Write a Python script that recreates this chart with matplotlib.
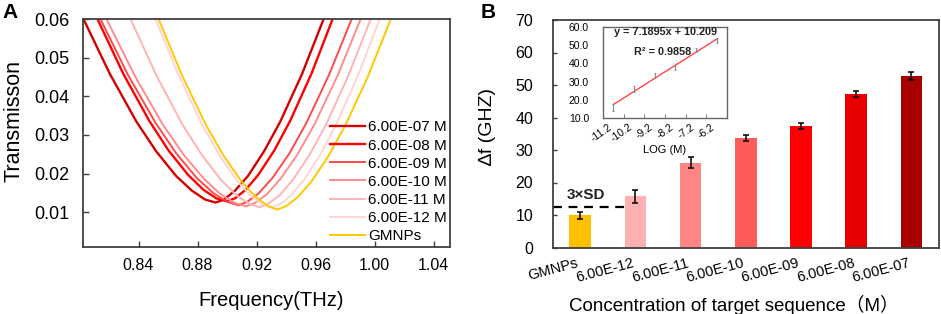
import matplotlib.pyplot as plt

plt.rcParams['font.family'] = ['Liberation Sans', 'DejaVu Sans']

# ---- panel A: transmission spectra ----
conc_labels = ['6.00E-07 M', '6.00E-08 M', '6.00E-09 M', '6.00E-10 M',
               '6.00E-11 M', '6.00E-12 M', 'GMNPs']

freq_07 = [0.8027, 0.8206, 0.8385, 0.8519, 0.8654, 0.8761, 0.8850, 0.8922,
           0.8981, 0.9054, 0.9142, 0.9251, 0.9361, 0.9508, 0.9654]
trans_07 = [0.0600, 0.0458, 0.0335, 0.0258, 0.0194, 0.0156, 0.0133, 0.0125,
            0.0133, 0.0156, 0.0194, 0.0258, 0.0335, 0.0458, 0.0600]

freq_08 = [0.8122, 0.8297, 0.8472, 0.8603, 0.8735, 0.8840, 0.8927, 0.8997,
           0.9054, 0.9126, 0.9212, 0.9320, 0.9428, 0.9571, 0.9715]
trans_08 = [0.0600, 0.0458, 0.0337, 0.0260, 0.0197, 0.0158, 0.0136, 0.0128,
            0.0136, 0.0158, 0.0197, 0.0260, 0.0337, 0.0458, 0.0600]

freq_09 = [0.8142, 0.8329, 0.8516, 0.8656, 0.8796, 0.8908, 0.9001, 0.9076,
           0.9137, 0.9214, 0.9306, 0.9422, 0.9537, 0.9690, 0.9844]
trans_09 = [0.0600, 0.0455, 0.0331, 0.0252, 0.0188, 0.0149, 0.0127, 0.0118,
            0.0127, 0.0149, 0.0188, 0.0252, 0.0331, 0.0455, 0.0600]

freq_10 = [0.8183, 0.8372, 0.8561, 0.8703, 0.8844, 0.8958, 0.9052, 0.9128,
           0.9190, 0.9268, 0.9361, 0.9478, 0.9594, 0.9750, 0.9905]
trans_10 = [0.0600, 0.0455, 0.0329, 0.0250, 0.0186, 0.0146, 0.0124, 0.0115,
            0.0124, 0.0146, 0.0186, 0.0250, 0.0329, 0.0455, 0.0600]

freq_11 = [0.8346, 0.8521, 0.8696, 0.8827, 0.8958, 0.9063, 0.9150, 0.9220,
           0.9280, 0.9356, 0.9446, 0.9559, 0.9672, 0.9822, 0.9973]
trans_11 = [0.0600, 0.0454, 0.0328, 0.0249, 0.0184, 0.0144, 0.0122, 0.0113,
            0.0122, 0.0144, 0.0184, 0.0249, 0.0328, 0.0454, 0.0600]

freq_12 = [0.8515, 0.8672, 0.8829, 0.8947, 0.9064, 0.9159, 0.9237, 0.9300,
           0.9359, 0.9432, 0.9520, 0.9630, 0.9740, 0.9887, 1.0034]
trans_12 = [0.0600, 0.0454, 0.0328, 0.0248, 0.0183, 0.0143, 0.0121, 0.0112,
            0.0121, 0.0143, 0.0183, 0.0248, 0.0328, 0.0454, 0.0600]

freq_gm = [0.8536, 0.8697, 0.8858, 0.8978, 0.9099, 0.9195, 0.9276, 0.9340,
           0.9402, 0.9478, 0.9571, 0.9686, 0.9801, 0.9955, 1.0109]
trans_gm = [0.0600, 0.0452, 0.0325, 0.0245, 0.0179, 0.0139, 0.0116, 0.0107,
            0.0116, 0.0139, 0.0179, 0.0245, 0.0325, 0.0452, 0.0600]

a_xticks = [0.84, 0.88, 0.92, 0.96, 1.00, 1.04]
a_yticks = [0.01, 0.02, 0.03, 0.04, 0.05, 0.06]

# ---- panel B: frequency shift bars ----
bar_labels = ['GMNPs', '6.00E-12', '6.00E-11', '6.00E-10', '6.00E-09',
              '6.00E-08', '6.00E-07']
shift = [9.9, 15.7, 26.1, 33.7, 37.4, 47.3, 52.7]
shift_err = [1.0, 1.9, 1.75, 0.9, 1.0, 1.0, 1.3]
sd_level = 12.5

# inset: linear fit vs log concentration
log_labels = ['-11.2', '-10.2', '-9.2', '-8.2', '-7.2', '-6.2']
fit_y = [17.40, 53.35]   # y = 7.1895x + 10.209 at x = 1 and x = 6

line_colors = ['#D40000', '#FF0000', '#FF4A4A', '#FF8C8C', '#FFB4B4',
               '#FFD4D4', '#FFC800']
line_widths = [1.7, 1.7, 1.4, 1.4, 1.4, 1.4, 1.4]
bar_colors = ['#FFC000', '#FFB0B0', '#FF8585', '#FF5B5B', '#FF0000',
              '#E60000', '#A80000']
spine_col = '#404040'

fig = plt.figure(figsize=(9.41, 3.14), dpi=100)

# ---------------- panel A ----------------
ax = fig.add_axes([83/941, 1-247/314, 367/941, 228/314])
curves = [(freq_07, trans_07), (freq_08, trans_08), (freq_09, trans_09),
          (freq_10, trans_10), (freq_11, trans_11), (freq_12, trans_12),
          (freq_gm, trans_gm)]
for (f, t), lab, c, lw in zip(curves, conc_labels, line_colors, line_widths):
    ax.plot(f, t, color=c, lw=lw, label=lab)

ax.set_xlim(0.8024, 1.051)
ax.set_ylim(0.001, 0.06)
ax.set_xticks(a_xticks)
ax.set_xticklabels(['%.2f' % v for v in a_xticks], fontsize=11.5)
ax.set_yticks(a_yticks)
ax.set_yticklabels(['%.2f' % v for v in a_yticks], fontsize=13)
ax.tick_params(axis='x', direction='in', length=4, width=1, color=spine_col, pad=8)
ax.tick_params(axis='y', direction='in', length=4, width=1, color=spine_col, pad=10)
for s in ax.spines.values():
    s.set_color(spine_col)
    s.set_linewidth(1.3)
ax.set_xlabel('Frequency(THz)', fontsize=14.5)
ax.xaxis.set_label_coords(0.512, -0.195)
ax.set_ylabel('Transmisson', fontsize=15.5)
ax.yaxis.set_label_coords(-0.16, 0.553)
ax.legend(loc='lower right', bbox_to_anchor=(0.995, 0.01), frameon=False,
          fontsize=11, handlelength=2.3, handletextpad=0.2, labelspacing=0.27,
          borderaxespad=0.0, borderpad=0.1)

# ---------------- panel B ----------------
bx = fig.add_axes([552.5/941, 1-247.5/314, 386.5/941, 227.5/314])
pos = list(range(len(bar_labels)))
bx.bar(pos, shift, width=0.39, color=bar_colors, yerr=shift_err, capsize=2,
       error_kw=dict(elinewidth=1.1, capthick=1.1, ecolor='black'))
bx.plot([-0.5, 0.83], [sd_level, sd_level], color='black', lw=1.6,
        dashes=(4, 3))
bx.text(-0.24, 16.3, '3×SD', fontsize=11, fontweight='bold', color='#222222',
        ha='left', va='center')
bx.set_xlim(-0.5, 6.5)
bx.set_ylim(0, 70)
bx.set_yticks(range(0, 71, 10))
bx.set_yticklabels([str(v) for v in range(0, 71, 10)], fontsize=11.5)
bx.set_xticks(pos)
bx.set_xticklabels(bar_labels, rotation=15, ha='right', fontsize=10.5)
bx.tick_params(axis='x', length=0, pad=6)
bx.tick_params(axis='y', direction='in', length=3, width=1, color=spine_col, pad=14)
for s in bx.spines.values():
    s.set_color(spine_col)
    s.set_linewidth(1.3)
bx.set_ylabel('∆f (GHZ)', fontsize=14)
bx.yaxis.set_label_coords(-0.145, 0.53)
bx.set_xlabel('Concentration of target sequence（M）', fontsize=13.5,
              family=['Liberation Sans', 'Noto Sans CJK SC'])
bx.xaxis.set_label_coords(0.47, -0.21)

# ---------------- inset ----------------
ix = fig.add_axes([603/941, 1-118/314, 124/941, 91/314])
ipos = list(range(1, len(log_labels) + 1))
ix.plot([1, 6], fit_y, color='#FF4545', lw=1.0)
ix.errorbar(ipos, shift[1:], yerr=shift_err[1:], fmt='none', ecolor='#888888',
            elinewidth=0.8, capsize=1, capthick=0.6)
ix.set_xlim(0.5, 6.5)
ix.set_ylim(10, 60)
ix.set_yticks(range(10, 61, 10))
ix.set_yticklabels(['%.1f' % v for v in range(10, 61, 10)], fontsize=7.5)
ix.set_xticks(ipos)
ix.set_xticklabels(log_labels, rotation=35, ha='right', fontsize=7.5)
ix.set_xticks([1.5, 2.5, 3.5, 4.5, 5.5], minor=True)
ix.tick_params(axis='x', which='major', length=0, pad=3)
ix.tick_params(axis='x', which='minor', direction='in', length=3, color='#666666')
ix.tick_params(axis='y', direction='in', length=0, pad=10)
for s in ix.spines.values():
    s.set_color('#666666')
    s.set_linewidth(1.0)
ix.set_xlabel('LOG (M)', fontsize=8, labelpad=1)
ix.text(3.5, 57.5, 'y = 7.1895x + 10.209', fontsize=7.8, fontweight='bold',
        ha='center', va='center', color='#222222')
ix.text(3.4, 46.5, 'R² = 0.9858', fontsize=7.8, fontweight='bold',
        ha='center', va='center', color='#222222')

fig.text(10/941, 1-13/314, 'A', fontsize=15, fontweight='bold',
         ha='center', va='center')
fig.text(488/941, 1-12/314, 'B', fontsize=15, fontweight='bold',
         ha='center', va='center')

fig.savefig('out.png', dpi=100)
